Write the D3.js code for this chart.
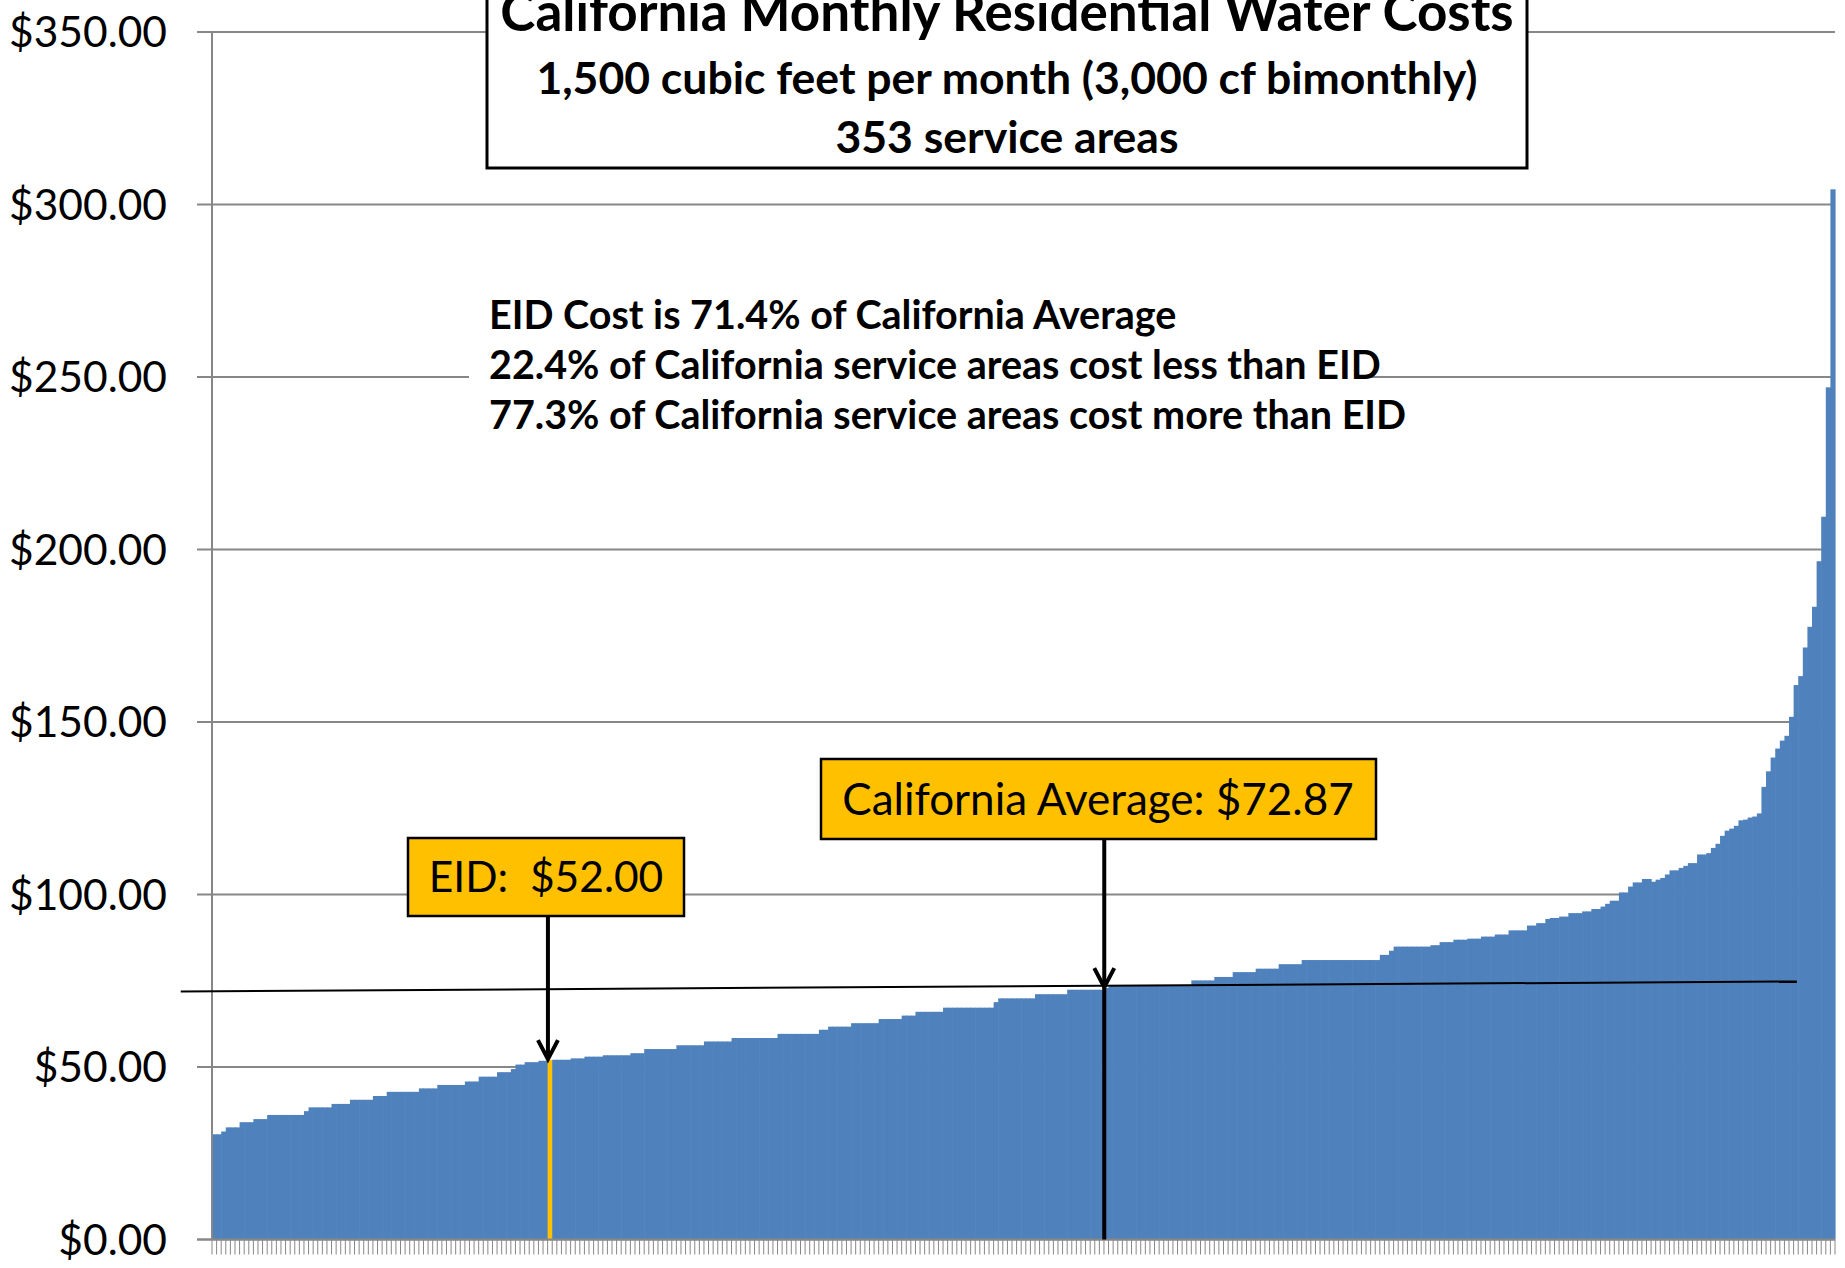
<!DOCTYPE html>
<html>
<head>
<meta charset="utf-8">
<script src="https://cdn.jsdelivr.net/npm/d3@7"></script>
<style>
  html, body { margin: 0; padding: 0; background: #fff; }
  svg { display: block; font-family: Lato, "Open Sans", sans-serif; }
</style>
</head>
<body>
<div id="chart"></div>
<script>
// monthly cost of 1,500 cf for each service area, sorted low to high
const costs = [
  30.5, 30.5, 31.3, 32.5, 32.5, 32.5, 34.0, 34.0, 34.0, 34.9,
  34.9, 34.9, 36.1, 36.1, 36.1, 36.1, 36.1, 36.1, 36.1, 36.1,
  37.2, 38.3, 38.3, 38.3, 38.3, 38.3, 39.3, 39.3, 39.3, 39.3,
  40.5, 40.5, 40.5, 40.5, 40.5, 41.6, 41.6, 41.6, 42.8, 42.8,
  42.8, 42.8, 42.8, 42.8, 42.8, 43.8, 43.8, 43.8, 43.8, 44.8,
  44.8, 44.8, 44.8, 44.8, 44.8, 45.8, 45.8, 45.8, 47.2, 47.2,
  47.2, 47.2, 48.5, 48.5, 48.5, 49.4, 50.7, 50.7, 51.4, 51.4,
  51.4, 51.8, 51.8, 52.0, 52.1, 52.1, 52.1, 52.1, 52.5, 52.5,
  52.5, 53.0, 53.0, 53.0, 53.0, 53.4, 53.4, 53.4, 53.4, 53.4,
  53.4, 54.0, 54.0, 54.0, 55.2, 55.2, 55.2, 55.2, 55.2, 55.2,
  55.2, 56.3, 56.3, 56.3, 56.3, 56.3, 56.3, 57.4, 57.4, 57.4,
  57.4, 57.4, 57.4, 58.4, 58.4, 58.4, 58.4, 58.4, 58.4, 58.4,
  58.4, 58.4, 58.4, 59.6, 59.6, 59.6, 59.6, 59.6, 59.6, 59.6,
  59.6, 59.6, 60.8, 60.8, 61.7, 61.7, 61.7, 61.7, 61.7, 62.7,
  62.7, 62.7, 62.7, 62.7, 62.7, 63.9, 63.9, 63.9, 63.9, 63.9,
  64.9, 64.9, 64.9, 66.0, 66.0, 66.0, 66.0, 66.0, 66.0, 67.2,
  67.2, 67.2, 67.2, 67.2, 67.2, 67.2, 67.2, 67.2, 67.2, 67.2,
  68.8, 69.9, 69.9, 69.9, 69.9, 69.9, 69.9, 69.9, 69.9, 71.1,
  71.1, 71.1, 71.1, 71.1, 71.1, 71.1, 72.4, 72.4, 72.4, 72.4,
  72.4, 72.4, 72.4, 72.4, 72.9, 73.5, 73.5, 73.5, 73.5, 73.5,
  73.5, 73.5, 73.5, 73.5, 73.5, 73.5, 73.5, 73.5, 73.5, 73.5,
  73.5, 73.5, 73.5, 75.1, 75.1, 75.1, 75.1, 75.1, 76.1, 76.1,
  76.1, 76.1, 77.5, 77.5, 77.5, 77.5, 77.5, 78.5, 78.5, 78.5,
  78.5, 78.5, 79.8, 79.8, 79.8, 79.8, 79.8, 81.0, 81.0, 81.0,
  81.0, 81.0, 81.0, 81.0, 81.0, 81.0, 81.0, 81.0, 81.0, 81.0,
  81.0, 81.0, 81.0, 81.0, 82.5, 82.5, 83.7, 84.9, 84.9, 84.9,
  84.9, 84.9, 84.9, 84.9, 84.9, 85.3, 85.3, 86.2, 86.2, 86.2,
  86.9, 86.9, 86.9, 87.2, 87.2, 87.2, 87.8, 87.8, 87.8, 88.4,
  88.4, 88.4, 89.6, 89.6, 89.6, 89.6, 91.0, 91.0, 91.7, 91.7,
  92.9, 93.2, 93.2, 93.6, 93.6, 94.6, 94.6, 94.6, 95.1, 95.1,
  95.8, 95.8, 96.5, 97.3, 98.2, 98.2, 100.6, 100.6, 102.3, 103.5,
  103.5, 104.5, 104.5, 103.7, 104.3, 104.8, 105.8, 107.0, 107.0, 107.7,
  108.3, 109.1, 109.1, 111.6, 111.6, 112.0, 113.5, 114.7, 117.0, 118.5,
  119.1, 119.9, 121.5, 121.7, 122.3, 122.6, 123.5, 131.2, 135.7, 139.7,
  142.3, 144.6, 146.0, 151.5, 160.7, 163.3, 171.6, 177.6, 183.4, 196.6,
  209.5, 247.0, 304.4
];

const yTicks = [0, 50, 100, 150, 200, 250, 300, 350];

const titleLines = [
  "California Monthly Residential Water Costs",
  "1,500 cubic feet per month (3,000 cf bimonthly)",
  "353 service areas"
];
const noteLines = [
  "EID Cost is 71.4% of California Average",
  "22.4% of California service areas cost less than EID",
  "77.3% of California service areas cost more than EID"
];

const eidIndex = 73, eidCost = 52.00;
const avgIndex = 194, avgCost = 72.87;
// hand drawn average line (slightly tilted in the original)
const avgLineIdx = [-6.8, 344.7];
const avgLineVal = [71.9, 74.8];

const W = 1845, H = 1268;
const margin = { top: 32, right: 10, bottom: 28.5, left: 212 };
const barColor = "#4F81BD", gold = "#FFC000", gridColor = "#878787";

const svg = d3.select("#chart").append("svg")
    .attr("width", W)
    .attr("height", H);

const y = d3.scaleLinear()
    .domain([0, 350])
    .range([H - margin.bottom, margin.top]);

const x = d3.scaleBand()
    .domain(costs.map((d, i) => i))
    .range([margin.left, W - margin.right])
    .padding(0);

// linear version of x, for things placed between bars
const xi = d3.scaleLinear()
    .domain([0, costs.length])
    .range([margin.left, W - margin.right]);

// gridlines (the one at 0 is the x axis)
svg.append("g")
    .selectAll("line")
    .data(yTicks)
    .join("line")
    .attr("x1", margin.left - 15)
    .attr("x2", W - margin.right)
    .attr("y1", d => y(d))
    .attr("y2", d => y(d))
    .attr("stroke", gridColor)
    .attr("stroke-width", 2);

// y tick labels
svg.append("g")
    .selectAll("text")
    .data(yTicks)
    .join("text")
    .attr("x", 167)
    .attr("y", d => y(d))
    .attr("dy", "0.36em")
    .attr("text-anchor", "end")
    .style("font-size", "42.5px")
    .text(d => "$" + d3.format(".2f")(d));

// bars
svg.append("g")
    .selectAll("rect")
    .data(costs)
    .join("rect")
    .attr("x", (d, i) => x(i))
    .attr("y", d => y(d))
    .attr("width", x.bandwidth() + 0.6)
    .attr("height", d => y(0) - y(d))
    .attr("fill", (d, i) => i === eidIndex ? gold : barColor);

// y axis line
svg.append("line")
    .attr("x1", margin.left).attr("x2", margin.left)
    .attr("y1", y(0)).attr("y2", y(350))
    .attr("stroke", gridColor)
    .attr("stroke-width", 2);

// x axis: one tick per service area
svg.append("g")
    .selectAll("line")
    .data(d3.range(costs.length + 1))
    .join("line")
    .attr("x1", d => xi(d)).attr("x2", d => xi(d))
    .attr("y1", y(0)).attr("y2", y(0) + 15)
    .attr("stroke", gridColor)
    .attr("stroke-width", 1);

svg.append("line")
    .attr("x1", margin.left - 15).attr("x2", W - margin.right)
    .attr("y1", y(0)).attr("y2", y(0))
    .attr("stroke", gridColor)
    .attr("stroke-width", 2);

// average line
svg.append("line")
    .attr("x1", xi(avgLineIdx[0])).attr("y1", y(avgLineVal[0]))
    .attr("x2", xi(avgLineIdx[1])).attr("y2", y(avgLineVal[1]))
    .attr("stroke", "#000")
    .attr("stroke-width", 2);

// note text with its white frame
svg.append("rect")
    .attr("x", 469).attr("y", 290)
    .attr("width", 889).attr("height", 150)
    .attr("fill", "#fff");

svg.append("g")
    .selectAll("text")
    .data(noteLines)
    .join("text")
    .attr("x", 489)
    .attr("y", (d, i) => 329 + i * 50)
    .style("font-size", "39.5px")
    .style("font-weight", "bold")
    .text(d => d);

// title box
svg.append("rect")
    .attr("x", 487).attr("y", -20)
    .attr("width", 1040).attr("height", 188)
    .attr("fill", "#fff")
    .attr("stroke", "#000")
    .attr("stroke-width", 3);

const titleSizes = [53, 44.5, 44.5];
const titleBase = [31, 94, 153];
svg.append("g")
    .selectAll("text")
    .data(titleLines)
    .join("text")
    .attr("x", 1007)
    .attr("y", (d, i) => titleBase[i])
    .attr("text-anchor", "middle")
    .style("font-size", (d, i) => titleSizes[i] + "px")
    .style("font-weight", "bold")
    .text(d => d);

// arrow helper: stem from (cx, top) to bottom, head pointing at tipY
function arrow(cx, top, bottom, tipY) {
    const g = svg.append("g")
        .attr("stroke", "#000")
        .attr("fill", "none")
        .attr("stroke-width", 4);
    g.append("line")
        .attr("x1", cx).attr("x2", cx)
        .attr("y1", top).attr("y2", bottom);
    g.append("polyline")
        .attr("points", [[cx - 10, tipY - 20], [cx, tipY - 1], [cx + 10, tipY - 20]].join(" "))
        .attr("stroke-linejoin", "miter");
}

// EID callout
const eidX = x(eidIndex) + x.bandwidth() / 2;
arrow(eidX - 2, 916, y(eidCost) - 2, y(eidCost));
svg.append("rect")
    .attr("x", 408).attr("y", 838)
    .attr("width", 276).attr("height", 78)
    .attr("fill", gold)
    .attr("stroke", "#000")
    .attr("stroke-width", 2.5);
svg.append("text")
    .attr("x", 546).attr("y", 892)
    .attr("text-anchor", "middle")
    .style("font-size", "42.5px")
    .style("white-space", "pre")
    .text("EID:  $" + d3.format(".2f")(eidCost));

// California average callout
const avgX = x(avgIndex) + x.bandwidth() / 2;
arrow(avgX - 2, 838, y(0), y(avgCost));
svg.append("rect")
    .attr("x", 821).attr("y", 759)
    .attr("width", 555).attr("height", 80)
    .attr("fill", gold)
    .attr("stroke", "#000")
    .attr("stroke-width", 2.5);
svg.append("text")
    .attr("x", 1098).attr("y", 815)
    .attr("text-anchor", "middle")
    .style("font-size", "44px")
    .text("California Average: $" + d3.format(".2f")(avgCost));
</script>
</body>
</html>
